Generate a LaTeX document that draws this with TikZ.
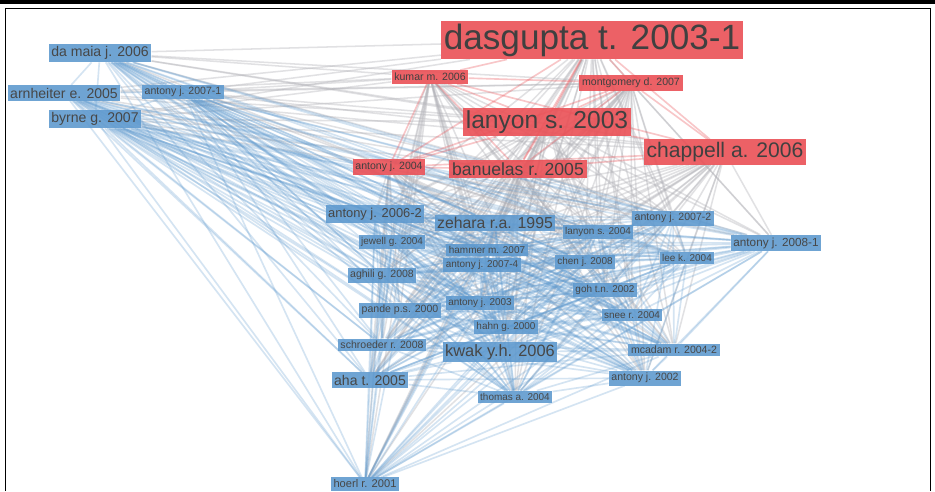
\documentclass[tikz,border=0pt]{standalone}
\usepackage{fontspec}
\setmainfont{Liberation Sans}
\usetikzlibrary{backgrounds}

\definecolor{vosblue}{RGB}{92,152,206}
\definecolor{vosred}{RGB}{234,80,86}
\definecolor{edgegrey}{RGB}{178,178,184}

\begin{document}
\begin{tikzpicture}[
    x=0.03cm, y=-0.03cm,
    bnode/.style={fill=vosblue, fill opacity=0.88, text opacity=1, text=black!72,
        inner sep=2.2pt, font=\fontsize{#1}{#1}\selectfont},
    bnode/.default=8.5,
    rnode/.style={fill=vosred, fill opacity=0.9, text opacity=1, text=black!75,
        inner sep=2.4pt, font=\fontsize{#1}{#1}\selectfont},
    rnode/.default=9,
    blink/.style={vosblue, opacity=0.26, line width=1.4pt},
    glink/.style={edgegrey, opacity=0.38, line width=1.3pt},
    rlink/.style={vosred, opacity=0.32, line width=1.4pt}
]
\useasboundingbox (0,0) rectangle (935,491);

% frame
\draw[line width=3pt] (0,2) -- (935,2);
\draw[line width=0.8pt] (5,491) -- (5,8) -- (930,8) -- (930,491);

% red cluster
\node[rnode=30] (dasgupta) at (592,40) {dasgupta t. 2003-1};
\node[rnode] (kumar) at (430,77) {kumar m. 2006};
\node[rnode] (montgomery) at (631,83) {montgomery d. 2007};
\node[rnode=21] (lanyon) at (547,122) {lanyon s. 2003};
\node[rnode=18] (chappell) at (725,152) {chappell a. 2006};
\node[rnode=15] (banuelas) at (518,169) {banuelas r. 2005};
\node[rnode] (antonyR) at (389,167) {antony j. 2004};

% blue cluster
\node[bnode=12] (maia) at (100,53) {da maia j. 2006};
\node[bnode=12] (arnheiter) at (64,93) {arnheiter e. 2005};
\node[bnode=9] (antonyA) at (183,92) {antony j. 2007-1};
\node[bnode=12] (byrne) at (95,119) {byrne g. 2007};
\node[bnode=11] (antonyB) at (375,214) {antony j. 2006-2};
\node[bnode=13.5] (zehara) at (495,223) {zehara r.a. 1995};
\node[bnode=9] (antonyC) at (673,218) {antony j. 2007-2};
\node[bnode] (lanyonB) at (598,232) {lanyon s. 2004};
\node[bnode=10] (antonyD) at (776,243) {antony j. 2008-1};
\node[bnode] (jewell) at (392,242) {jewell g. 2004};
\node[bnode] (hammer) at (487,250) {hammer m. 2007};
\node[bnode] (antonyE) at (482,265) {antony j. 2007-4};
\node[bnode=9] (aghili) at (382,275) {aghili g. 2008};
\node[bnode] (chen) at (585,262) {chen j. 2008};
\node[bnode] (lee) at (687,258) {lee k. 2004};
\node[bnode] (goh) at (605,290) {goh t.n. 2002};
\node[bnode] (antonyF) at (480,303) {antony j. 2003};
\node[bnode=9] (pande) at (400,310) {pande p.s. 2000};
\node[bnode] (snee) at (632,315) {snee r. 2004};
\node[bnode] (hahn) at (506,327) {hahn g. 2000};
\node[bnode=9] (schroeder) at (382,345) {schroeder r. 2008};
\node[bnode=14] (kwak) at (500,352) {kwak y.h. 2006};
\node[bnode=9] (mcadam) at (674,350) {mcadam r. 2004-2};
\node[bnode=12] (aha) at (370,380) {aha t. 2005};
\node[bnode=9] (antonyG) at (645,378) {antony j. 2002};
\node[bnode] (thomas) at (515,397) {thomas a. 2004};
\node[bnode=9.5] (hoerl) at (365,484) {hoerl r. 2001};

\def\redlist{dasgupta,kumar,montgomery,lanyon,chappell,banuelas,antonyR}
\def\bluelist{maia,arnheiter,antonyA,byrne,antonyB,zehara,antonyC,lanyonB,antonyD,
  jewell,hammer,antonyE,aghili,chen,lee,goh,antonyF,pande,snee,hahn,schroeder,
  kwak,mcadam,aha,antonyG,thomas,hoerl}

% links
\begin{scope}[on background layer]
\fill[white] (0,0) rectangle (935,491);
\foreach \a in \redlist
  \foreach \b in \bluelist
    \draw[glink] (\a) -- (\b);
\foreach \a [count=\i] in \bluelist
  \foreach \b [count=\j] in \bluelist {
    \ifnum\j>\i \draw[blink] (\a) -- (\b); \fi
  }
\foreach \a [count=\i] in \redlist
  \foreach \b [count=\j] in \redlist {
    \ifnum\j>\i \draw[rlink] (\a) -- (\b); \fi
  }
\end{scope}
\end{tikzpicture}
\end{document}
